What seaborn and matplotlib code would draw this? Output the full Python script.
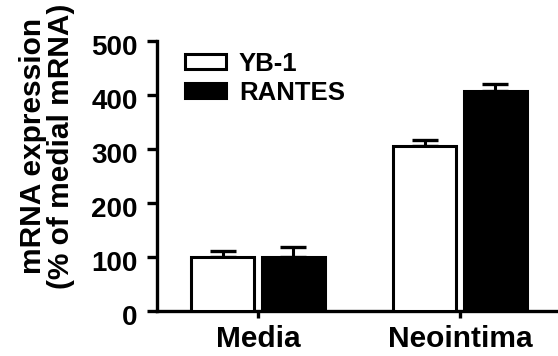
import numpy as np
import pandas as pd
import matplotlib
matplotlib.use("Agg")
import matplotlib.pyplot as plt
import matplotlib.transforms as mtransforms
import seaborn as sns

# values
tissues = ["Media", "Neointima"]
genes = ["YB-1", "RANTES"]
yb1_mean = [100, 305]
yb1_err = [11, 12]
rantes_mean = [100, 408]
rantes_err = [18, 12]

df = pd.DataFrame({
    "tissue": tissues * 2,
    "gene": [genes[0]] * 2 + [genes[1]] * 2,
    "value": yb1_mean + rantes_mean,
    "err": yb1_err + rantes_err,
})

sns.set_style("ticks")
plt.rcParams["font.family"] = ["Liberation Sans", "DejaVu Sans"]
plt.rcParams["font.weight"] = "bold"
for k in ["text.color", "axes.labelcolor", "xtick.color", "ytick.color",
          "axes.edgecolor"]:
    plt.rcParams[k] = "black"

fig = plt.figure(figsize=(5.58, 3.56), dpi=100)
ax = fig.add_axes([157 / 558, 45 / 356, 401 / 558, 270 / 356])

sns.barplot(data=df, x="tissue", y="value", hue="gene", order=tissues,
            hue_order=genes, palette=["white", "black"], edgecolor="black",
            linewidth=2.2, width=0.7, gap=0.1, errorbar=None, ax=ax,
            zorder=3)

# upper error bars only, placed on the bars seaborn drew
bars = [p for p in ax.patches if p.get_height() > 0]
for p in bars:
    xc = p.get_x() + p.get_width() / 2
    top = p.get_height()
    i = int(round(xc))
    gene = genes[0] if xc < i else genes[1]
    e = df[(df["tissue"] == tissues[i]) & (df["gene"] == gene)]["err"].iloc[0]
    ax.errorbar(xc, top, yerr=[[0], [e]], fmt="none", ecolor="black",
                elinewidth=2.2, capsize=9.5, capthick=2.4, zorder=2)

ax.set_ylim(0, 500)
ax.set_xlim(-0.5, 1.485)
ax.set_yticks([0, 100, 200, 300, 400, 500])
ax.set_xlabel("")
ax.set_ylabel("mRNA expression\n(% of medial mRNA)", fontsize=21.5,
              fontweight="bold", linespacing=1.0)
ax.yaxis.set_label_coords(-0.205, 0.61)

sns.despine(ax=ax)
for s in ["left", "bottom"]:
    ax.spines[s].set_linewidth(2.4)
ax.tick_params(axis="y", length=7, width=2.4, labelsize=20, pad=7)
ax.tick_params(axis="x", length=5, width=2.4, labelsize=21.5, pad=5)
for lab in ax.get_yticklabels() + ax.get_xticklabels():
    lab.set_fontweight("bold")
off = mtransforms.ScaledTranslation(0, -4 / 100, fig.dpi_scale_trans)
for lab in ax.get_yticklabels():
    lab.set_transform(lab.get_transform() + off)

handles, labels = ax.get_legend_handles_labels()
leg = ax.legend(handles, labels, loc="upper left",
                bbox_to_anchor=(0.07, 0.96), frameon=False,
                prop={"size": 18.5, "weight": "bold"},
                handlelength=1.6, handleheight=0.5, handletextpad=0.5,
                labelspacing=0.2, borderpad=0, borderaxespad=0)

fig.savefig("out.png", dpi=100)
